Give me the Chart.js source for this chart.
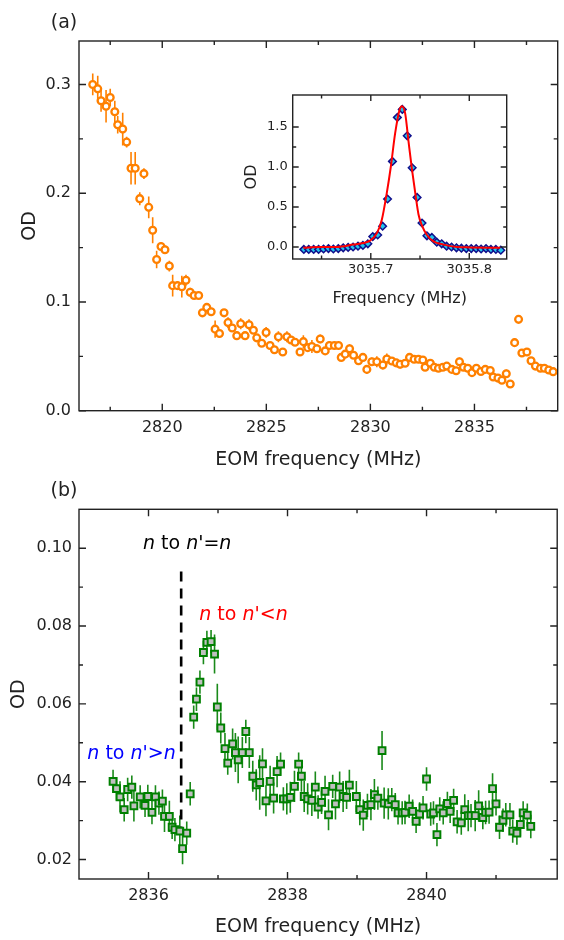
<!DOCTYPE html>
<html>
<head>
<meta charset="utf-8">
<script src="https://cdn.jsdelivr.net/npm/chart.js@4.4.0/dist/chart.umd.min.js"></script>
<style>
    html, body { margin: 0; padding: 0; background: #fff; }
    #wrap { position: relative; width: 564px; height: 940px; }
    canvas { position: absolute; }
</style>
</head>
<body>
<div id="wrap">
    <canvas id="chartA" width="564" height="470" style="left:0;top:0"></canvas>
    <canvas id="chartInset" width="300" height="235" style="left:220px;top:80px"></canvas>
    <canvas id="chartB" width="564" height="470" style="left:0;top:470px"></canvas>
</div>
<script>
// ---- panel (a): OD vs EOM frequency ----
const aFreq = [2816.66, 2816.90, 2817.06, 2817.30, 2817.50, 2817.72, 2817.86, 2818.10, 2818.29, 2818.50,
    2818.70, 2818.92, 2819.12, 2819.35, 2819.54, 2819.73, 2819.94, 2820.13, 2820.34, 2820.50,
    2820.73, 2820.94, 2821.14, 2821.34, 2821.53, 2821.75, 2821.93, 2822.14, 2822.35, 2822.54,
    2822.75, 2822.97, 2823.16, 2823.36, 2823.58, 2823.77, 2823.98, 2824.17, 2824.38, 2824.54,
    2824.78, 2824.99, 2825.18, 2825.39, 2825.58, 2825.79, 2825.99, 2826.19, 2826.38, 2826.62,
    2826.78, 2826.99, 2827.19, 2827.43, 2827.59, 2827.83, 2828.03, 2828.27, 2828.47, 2828.60,
    2828.79, 2829.00, 2829.19, 2829.43, 2829.64, 2829.83, 2830.07, 2830.31, 2830.60, 2830.79,
    2831.03, 2831.24, 2831.43, 2831.67, 2831.88, 2832.10, 2832.31, 2832.52, 2832.63, 2832.88,
    2833.07, 2833.27, 2833.48, 2833.67, 2833.91, 2834.12, 2834.28, 2834.47, 2834.68, 2834.88,
    2835.09, 2835.31, 2835.52, 2835.76, 2835.90, 2836.13, 2836.32, 2836.53, 2836.72,
    2836.93, 2837.12, 2837.28, 2837.52, 2837.72, 2837.93, 2838.17, 2838.36, 2838.57, 2838.78];
const aOD = [0.300, 0.296, 0.285, 0.280, 0.288, 0.275, 0.263, 0.259, 0.247, 0.223,
    0.223, 0.195, 0.218, 0.187, 0.166, 0.139, 0.151, 0.148, 0.133, 0.115,
    0.115, 0.114, 0.120, 0.109, 0.106, 0.106, 0.090, 0.095, 0.091, 0.075,
    0.071, 0.090, 0.081, 0.076, 0.069, 0.080, 0.069, 0.079, 0.074, 0.067,
    0.062, 0.072, 0.060, 0.056, 0.068, 0.054, 0.068, 0.065, 0.063, 0.054,
    0.0635, 0.058, 0.059, 0.057, 0.066, 0.055, 0.060, 0.060, 0.060, 0.049,
    0.052, 0.057, 0.051, 0.046, 0.049, 0.038, 0.045, 0.045, 0.042, 0.0475,
    0.0457, 0.044, 0.0427, 0.0436, 0.049, 0.0473, 0.0473, 0.0466, 0.040, 0.0436,
    0.040, 0.039, 0.040, 0.041, 0.038, 0.0368, 0.045, 0.040, 0.039, 0.035,
    0.039, 0.036, 0.038, 0.037, 0.031, 0.030, 0.028, 0.034, 0.0246,
    0.0626, 0.084, 0.053, 0.054, 0.046, 0.041, 0.039, 0.039, 0.0374, 0.0359];
const aErr = [0.010, 0.012, 0.010, 0.015, 0.008, 0.010, 0.008, 0.015, 0.005, 0.015,
    0.015, 0.006, 0.005, 0.010, 0.012, 0.008, 0.004, 0.004, 0.005, 0.010,
    0.004, 0.010, 0.005, 0.004, 0.003, 0.003, 0.003, 0.004, 0.003, 0.008,
    0.004, 0.003, 0.005, 0.003, 0.004, 0.005, 0.003, 0.005, 0.003, 0.003,
    0.003, 0.005, 0.003, 0.003, 0.005, 0.003, 0.005, 0.003, 0.003, 0.003,
    0.006, 0.003, 0.006, 0.004, 0.004, 0.003, 0.004, 0.003, 0.003, 0.003,
    0.003, 0.004, 0.003, 0.004, 0.003, 0.004, 0.004, 0.005, 0.004, 0.005,
    0.003, 0.003, 0.004, 0.003, 0.003, 0.003, 0.003, 0.003, 0.003, 0.003,
    0.003, 0.003, 0.003, 0.003, 0.003, 0.003, 0.004, 0.003, 0.003, 0.004,
    0.003, 0.003, 0.003, 0.003, 0.003, 0.003, 0.003, 0.004, 0.003,
    0.004, 0.003, 0.003, 0.003, 0.003, 0.003, 0.002, 0.002, 0.002, 0.002];
const aXTicks = [2820, 2825, 2830, 2835];
const aXMinor = [2817.5, 2822.5, 2827.5, 2832.5, 2837.5];
const aYTicks = [0, 0.1, 0.2, 0.3];
const aYMinor = [0.05, 0.15, 0.25];

// ---- inset: single resonance + Lorentzian fit ----
const insetFreq = [3035.632, 3035.637, 3035.642, 3035.647, 3035.652, 3035.657, 3035.662, 3035.667, 3035.672, 3035.677,
    3035.682, 3035.687, 3035.692, 3035.697, 3035.702, 3035.707, 3035.712, 3035.717, 3035.722, 3035.727,
    3035.732, 3035.737, 3035.742, 3035.747, 3035.752, 3035.757, 3035.762, 3035.767, 3035.772, 3035.777,
    3035.782, 3035.787, 3035.792, 3035.797, 3035.802, 3035.807, 3035.812, 3035.817, 3035.822, 3035.827, 3035.832];
const insetOD = [-0.03, -0.03, -0.03, -0.03, -0.025, -0.02, -0.025, -0.02, -0.01, -0.005,
    0.0, 0.01, 0.02, 0.04, 0.13, 0.15, 0.26, 0.60, 1.07, 1.62,
    1.72, 1.39, 0.99, 0.62, 0.30, 0.14, 0.12, 0.06, 0.04, 0.01,
    0.0, -0.01, -0.015, -0.02, -0.02, -0.02, -0.025, -0.02, -0.03, -0.03, -0.04];
const fitFreq = [3035.6314, 3035.6484, 3035.6654, 3035.6823, 3035.6925, 3035.6993, 3035.7061, 3035.7112, 3035.7163,
    3035.7203, 3035.7247, 3035.7291, 3035.7315, 3035.7349, 3035.7383, 3035.7417, 3035.7451, 3035.7484,
    3035.7519, 3035.7570, 3035.7637, 3035.7739, 3035.7875, 3035.8010, 3035.8315];
const fitOD = [-0.01, 0.0, 0.0, 0.03, 0.05, 0.08, 0.17, 0.34, 0.68,
    1.0, 1.42, 1.71, 1.76, 1.67, 1.32, 0.98, 0.68, 0.41,
    0.27, 0.15, 0.07, 0.03, 0.0, -0.005, -0.01];
const insetXTicks = [3035.7, 3035.8];
const insetXMinor = [3035.65, 3035.75];
const insetYTicks = [0, 0.5, 1.0, 1.5];
const insetYMinor = [0.25, 0.75, 1.25];

// ---- panel (b): zoom around the jump ----
const bFreq = [2835.49, 2835.54, 2835.59, 2835.65, 2835.70, 2835.76, 2835.79, 2835.88, 2835.95, 2835.99,
    2836.05, 2836.10, 2836.15, 2836.20, 2836.23, 2836.30, 2836.34, 2836.38, 2836.45, 2836.49,
    2836.55, 2836.60, 2836.65, 2836.69, 2836.74, 2836.79, 2836.84, 2836.90, 2836.95, 2836.99,
    2837.04, 2837.10, 2837.14, 2837.21, 2837.25, 2837.29, 2837.35, 2837.40, 2837.45, 2837.50,
    2837.55, 2837.60, 2837.64, 2837.69, 2837.75, 2837.80, 2837.85, 2837.90, 2837.94, 2837.99,
    2838.04, 2838.10, 2838.16, 2838.20, 2838.24, 2838.29, 2838.35, 2838.40, 2838.44, 2838.49,
    2838.54, 2838.59, 2838.65, 2838.69, 2838.75, 2838.80, 2838.85, 2838.89, 2838.99, 2839.04,
    2839.09, 2839.15, 2839.20, 2839.25, 2839.30, 2839.36, 2839.39, 2839.45, 2839.50, 2839.55,
    2839.59, 2839.65, 2839.69, 2839.75, 2839.80, 2839.85, 2839.90, 2839.95, 2840.00, 2840.06,
    2840.10, 2840.15, 2840.19, 2840.24, 2840.30, 2840.34, 2840.39, 2840.44, 2840.50, 2840.55,
    2840.60, 2840.64, 2840.70, 2840.75, 2840.81, 2840.85, 2840.90, 2840.95, 2841.00, 2841.05,
    2841.10, 2841.14, 2841.20, 2841.24, 2841.30, 2841.35, 2841.39, 2841.45, 2841.50];
const bOD = [0.0401, 0.0382, 0.0361, 0.0328, 0.0380, 0.0386, 0.0338, 0.0361, 0.0339, 0.0362,
    0.0321, 0.0361, 0.0345, 0.0350, 0.0311, 0.0311, 0.0283, 0.0277, 0.0273, 0.0228,
    0.0268, 0.0369, 0.0566, 0.0612, 0.0656, 0.0732, 0.0758, 0.0760, 0.0728, 0.0592,
    0.0538, 0.0485, 0.0448, 0.0497, 0.0475, 0.0456, 0.0475, 0.0529, 0.0475, 0.0414,
    0.0392, 0.0398, 0.0446, 0.0351, 0.0401, 0.0358, 0.0426, 0.0445, 0.0356, 0.0356,
    0.0360, 0.0388, 0.0445, 0.0414, 0.0362, 0.0356, 0.0352, 0.0386, 0.0335, 0.0347,
    0.0375, 0.0315, 0.0388, 0.0343, 0.0386, 0.0362, 0.0360, 0.0391, 0.0362, 0.0328,
    0.0314, 0.0339, 0.0341, 0.0367, 0.0358, 0.0480, 0.0345, 0.0343, 0.0354, 0.0341,
    0.0320, 0.0320, 0.0321, 0.0337, 0.0324, 0.0298, 0.0317, 0.0333, 0.0407, 0.0317,
    0.0320, 0.0264, 0.0330, 0.0320, 0.0344, 0.0324, 0.0352, 0.0297, 0.0294, 0.0328,
    0.0313, 0.0313, 0.0313, 0.0338, 0.0308, 0.0321, 0.0322, 0.0382, 0.0343, 0.0283,
    0.0301, 0.0315, 0.0315, 0.0273, 0.0268, 0.0290, 0.0320, 0.0314, 0.0285];
const bErr = [0.003, 0.003, 0.004, 0.003, 0.003, 0.003, 0.004, 0.003, 0.003, 0.003,
    0.003, 0.003, 0.003, 0.003, 0.004, 0.004, 0.003, 0.003, 0.004, 0.004,
    0.003, 0.003, 0.003, 0.003, 0.003, 0.003, 0.003, 0.003, 0.005, 0.006,
    0.004, 0.004, 0.003, 0.004, 0.005, 0.006, 0.004, 0.003, 0.004, 0.004,
    0.004, 0.007, 0.004, 0.004, 0.004, 0.004, 0.004, 0.003, 0.003, 0.004,
    0.004, 0.004, 0.003, 0.004, 0.004, 0.004, 0.004, 0.004, 0.003, 0.003,
    0.004, 0.004, 0.003, 0.004, 0.004, 0.004, 0.003, 0.004, 0.004, 0.004,
    0.004, 0.003, 0.004, 0.004, 0.003, 0.005, 0.004, 0.004, 0.003, 0.003,
    0.003, 0.003, 0.003, 0.003, 0.003, 0.003, 0.003, 0.003, 0.003, 0.003,
    0.003, 0.003, 0.003, 0.003, 0.003, 0.003, 0.003, 0.003, 0.003, 0.004,
    0.004, 0.003, 0.004, 0.004, 0.003, 0.003, 0.003, 0.004, 0.003, 0.003,
    0.003, 0.003, 0.003, 0.003, 0.003, 0.003, 0.003, 0.003, 0.003];
const markerFreq = [2836.47, 2836.47];
const markerOD = [0.094, 0.027];
const bXTicks = [2836, 2838, 2840];
const bXMinor = [2837, 2839, 2841];
const bYTicks = [0.02, 0.04, 0.06, 0.08, 0.10];
const bYMinor = [0.03, 0.05, 0.07, 0.09];

Chart.defaults.font.family = '"DejaVu Sans", "Liberation Sans", Arial, sans-serif';
Chart.defaults.color = '#222';

const ink = '#222';
const toPoints = (xs, ys) => xs.map((x, i) => ({x: x, y: ys[i]}));

// frame box with inward major/minor ticks on all four sides
function framePlugin(xMinor, yMinor, major, minor) {
    return {
        id: 'frame',
        afterDatasetsDraw(chart) {
            const {ctx, chartArea: a, scales} = chart;
            ctx.save();
            ctx.strokeStyle = ink;
            ctx.lineWidth = 1.4;
            ctx.strokeRect(a.left, a.top, a.right - a.left, a.bottom - a.top);
            ctx.beginPath();
            const mark = (scale, values, len) => {
                values.forEach((v) => {
                    const p = scale.getPixelForValue(v);
                    if (scale.isHorizontal()) {
                        ctx.moveTo(p, a.bottom); ctx.lineTo(p, a.bottom - len);
                        ctx.moveTo(p, a.top); ctx.lineTo(p, a.top + len);
                    } else {
                        ctx.moveTo(a.left, p); ctx.lineTo(a.left + len, p);
                        ctx.moveTo(a.right, p); ctx.lineTo(a.right - len, p);
                    }
                });
            };
            mark(scales.x, scales.x.ticks.map((t) => t.value), major);
            mark(scales.y, scales.y.ticks.map((t) => t.value), major);
            mark(scales.x, xMinor, minor);
            mark(scales.y, yMinor, minor);
            ctx.stroke();
            ctx.restore();
        }
    };
}

// vertical error bars, drawn under the markers
const errorBarPlugin = {
    id: 'errorBars',
    beforeDatasetsDraw(chart) {
        const {ctx, scales} = chart;
        ctx.save();
        chart.data.datasets.forEach((ds) => {
            if (!ds.errors) return;
            ctx.strokeStyle = ds.errorColor;
            ctx.lineWidth = 1.6;
            ctx.beginPath();
            ds.data.forEach((pt, i) => {
                const x = scales.x.getPixelForValue(pt.x);
                ctx.moveTo(x, scales.y.getPixelForValue(pt.y - ds.errors[i]));
                ctx.lineTo(x, scales.y.getPixelForValue(pt.y + ds.errors[i]));
            });
            ctx.stroke();
        });
        ctx.restore();
    }
};

// text with italic parts; notes positioned in data units, panel tag in pixels
function textPlugin(tag, notes) {
    return {
        id: 'texts',
        afterDraw(chart) {
            const {ctx, scales} = chart;
            ctx.save();
            ctx.fillStyle = ink;
            ctx.font = '19px "DejaVu Sans"';
            ctx.textAlign = 'center';
            ctx.textBaseline = 'middle';
            ctx.fillText(tag.text, tag.px, tag.py);
            ctx.textAlign = 'left';
            ctx.textBaseline = 'alphabetic';
            notes.forEach((note) => {
                let x = scales.x.getPixelForValue(note.x);
                const y = scales.y.getPixelForValue(note.y);
                ctx.fillStyle = note.color;
                note.parts.forEach(([txt, italic]) => {
                    ctx.font = (italic ? 'italic ' : '') + '19px "DejaVu Sans"';
                    ctx.fillText(txt, x, y);
                    x += ctx.measureText(txt).width;
                });
            });
            ctx.restore();
        }
    };
}

function axis(min, max, tickValues, digits, size, pad, fitSize, title, titlePad, titleSize) {
    return {
        type: 'linear',
        min: min,
        max: max,
        afterBuildTicks: (scale) => { scale.ticks = tickValues.map((v) => ({value: v})) },
        afterFit: (scale) => {
            if (scale.isHorizontal()) scale.height = fitSize; else scale.width = fitSize;
        },
        grid: {display: false, drawTicks: false},
        border: {display: false},
        ticks: {
            padding: pad,
            color: ink,
            font: {size: size},
            callback: (v) => Number(v).toFixed(digits)
        },
        title: {
            display: true,
            text: title,
            color: ink,
            font: {size: titleSize, lineHeight: 1},
            padding: titlePad
        }
    };
}

const common = {
    responsive: false,
    animation: false,
    events: [],
    plugins: {legend: {display: false}, tooltip: {enabled: false}}
};

new Chart(document.getElementById('chartA'), {
    type: 'scatter',
    data: {
        datasets: [{
            data: toPoints(aFreq, aOD),
            errors: aErr,
            errorColor: '#FF8000',
            pointStyle: 'circle',
            pointRadius: 3.4,
            borderWidth: 2.3,
            borderColor: '#FF8000',
            backgroundColor: '#FFFFFF'
        }]
    },
    options: {
        ...common,
        layout: {padding: {left: 0, right: 2, top: 41, bottom: 0}},
        scales: {
            x: axis(2816, 2839, aXTicks, 0, 16, 8, 59.3, 'EOM frequency (MHz)', {top: 0, bottom: 0}, 19),
            y: axis(0, 0.34, aYTicks, 1, 16, 8, 79, 'OD', {top: 20.5, bottom: 0}, 19)
        }
    },
    plugins: [errorBarPlugin, framePlugin(aXMinor, aYMinor, 7, 4), textPlugin({text: '(a)', px: 64, py: 23}, [])]
});

new Chart(document.getElementById('chartInset'), {
    type: 'scatter',
    data: {
        datasets: [{
            type: 'line',
            data: toPoints(fitFreq, fitOD),
            borderColor: '#FF0000',
            borderWidth: 2,
            pointRadius: 0,
            cubicInterpolationMode: 'monotone',
            fill: false
        }, {
            data: toPoints(insetFreq, insetOD),
            pointStyle: 'rectRot',
            pointRadius: 3.8,
            borderWidth: 1.5,
            borderColor: '#10108C',
            backgroundColor: '#22C4EC'
        }]
    },
    options: {
        ...common,
        layout: {padding: {left: 0, right: 13.3, top: 15, bottom: 0}},
        scales: {
            x: axis(3035.6207, 3035.838, insetXTicks, 1, 13, 3, 56, 'Frequency (MHz)', {top: 0, bottom: 8.5}, 16),
            y: axis(-0.15, 1.9, insetYTicks, 1, 13, 5, 72.7, 'OD', {top: 23.5, bottom: 0}, 16)
        }
    },
    plugins: [framePlugin(insetXMinor, insetYMinor, 6, 3.5)]
});

new Chart(document.getElementById('chartB'), {
    type: 'scatter',
    data: {
        datasets: [{
            data: toPoints(bFreq, bOD),
            errors: bErr,
            errorColor: '#1A8A1A',
            pointStyle: 'rect',
            pointRadius: 4.8,
            borderWidth: 2,
            borderColor: '#008000',
            backgroundColor: '#C0C0C0'
        }, {
            type: 'line',
            data: toPoints(markerFreq, markerOD),
            borderColor: '#000000',
            borderWidth: 2.6,
            borderDash: [10, 7],
            pointRadius: 0,
            fill: false
        }]
    },
    options: {
        ...common,
        layout: {padding: {left: 0, right: 2.3, top: 39.3, bottom: 0}},
        scales: {
            x: axis(2835, 2841.88, bXTicks, 0, 16, 7.5, 61, 'EOM frequency (MHz)', {top: 0, bottom: 3.5}, 19),
            y: axis(0.015, 0.11, bYTicks, 2, 16, 7, 79, 'OD', {top: 10, bottom: 0}, 19)
        }
    },
    plugins: [errorBarPlugin, framePlugin(bXMinor, bYMinor, 7, 4), textPlugin({text: '(b)', px: 64, py: 21}, [
        {x: 2835.92, y: 0.0999, color: '#000000', parts: [['n', true], [' to ', false], ['n', true], ["'=", false], ['n', true]]},
        {x: 2836.73, y: 0.0815, color: '#FF0000', parts: [['n', true], [' to ', false], ['n', true], ["'<", false], ['n', true]]},
        {x: 2835.12, y: 0.0459, color: '#0000FF', parts: [['n', true], [' to ', false], ['n', true], ["'>", false], ['n', true]]}
    ])]
});
</script>
</body>
</html>
